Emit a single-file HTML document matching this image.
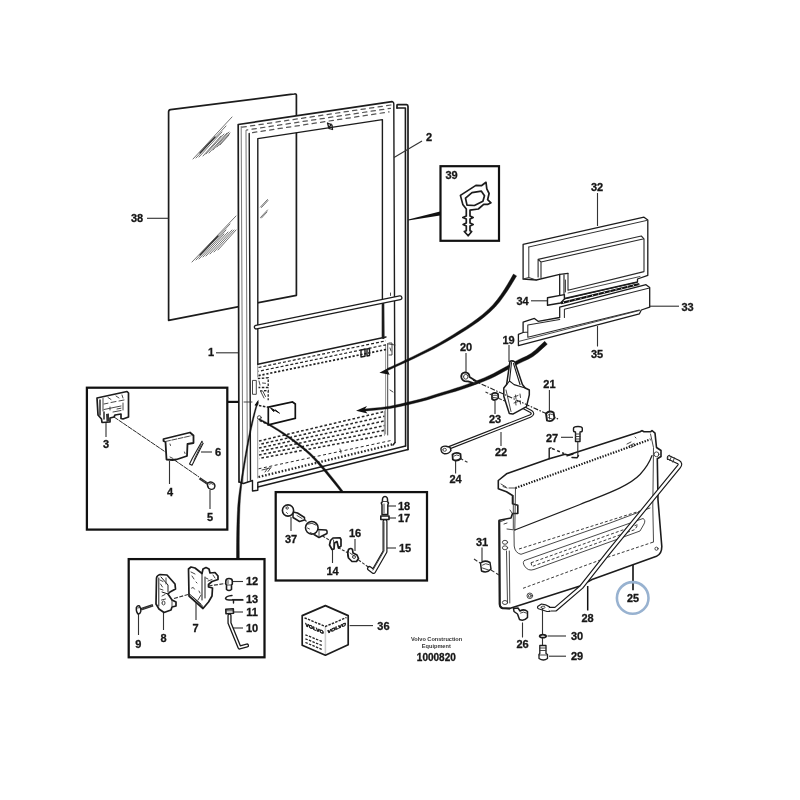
<!DOCTYPE html>
<html lang="en"><head><meta charset="utf-8"><title>Door parts diagram 1000820</title>
<style>
html,body{margin:0;padding:0;background:#fff;width:800px;height:800px;overflow:hidden}
svg{display:block;position:absolute;left:0;top:0;filter:blur(.45px)}
svg text{font-family:"Liberation Sans",sans-serif;font-weight:bold;font-size:11px;fill:#161616;text-anchor:middle;stroke:#161616;stroke-width:.3px;paint-order:stroke}
.l{fill:none;stroke:#1c1c1c;stroke-width:1.4;stroke-linecap:round;stroke-linejoin:round}
.t{fill:none;stroke:#333;stroke-width:.9;stroke-linecap:round;stroke-linejoin:round}
.g{fill:none;stroke:#666;stroke-width:.7;stroke-linecap:round}
.k{fill:none;stroke:#111;stroke-width:2.25;stroke-linejoin:miter}
.w{fill:#fff;stroke:#1c1c1c;stroke-width:1.4;stroke-linejoin:round;stroke-linecap:round}
.ld{fill:none;stroke:#333;stroke-width:1.12}
.d{fill:none;stroke:#222;stroke-width:1;stroke-dasharray:3 2}
.b{fill:none;stroke:#111;stroke-width:2.4;stroke-linecap:round}
</style></head><body>
<svg width="800" height="800" viewBox="0 0 800 800">
<rect width="800" height="800" fill="#fff"/>
<!-- glass pane 38 -->
<g id="glass">
<path class="w" style="stroke-width:1.700" d="M168.6,112 Q168.6,110 170.5,109.7 L294.5,93.9 Q296.4,93.6 296.4,95.5 L296.400,295.300 L168.600,320.300 Z"/>
<!-- reflections upper -->
<g class="t" style="stroke-width:.7">
<path d="M193,159 L232,117"/><path d="M196,158 L226,126"/><path d="M199,157 L222,132"/>
<path d="M203,156 L221,136"/><path d="M206,154 L224,134"/><path d="M209,153 L227,133"/>
<path d="M213,150 L229,132"/><path d="M217,147 L230,133"/><path d="M220,145 L229,135"/>
<path d="M200,153 L215,137" stroke-width="1.3"/>
<!-- reflections lower -->
<path d="M192,262 L236,216"/><path d="M196,260 L230,224"/><path d="M199,259 L226,230"/>
<path d="M203,257 L224,234"/><path d="M206,256 L228,232"/><path d="M210,254 L232,230"/>
<path d="M214,252 L234,230"/><path d="M218,250 L236,230"/>
<path d="M200,255 L218,236" stroke-width="1.3"/>
<!-- small -->
<path d="M260.500,207 L267.500,199.500"/><path d="M261.500,207.500 L268,200.500"/><path d="M260.500,217.500 L267.500,210"/><path d="M261.500,218 L267,212"/>
</g>
</g>
<!-- door frame 1 -->
<g id="frame">
<!-- white body of frame (covers glass) -->
<path fill="#fff" fill-rule="evenodd" stroke="none" d="M238.5,124.5 L392,101.6 L393.8,103 L395,443 L259,482 L238.5,482 Z M258,138.6 L382.4,119.6 L382.4,338 L258,362.5 Z"/>
<!-- outer left verticals -->
<path class="l" style="stroke-width:1.700" d="M239,482 L238.200,124.500 L392,101.600"/>
<path class="t" style="stroke:#666" d="M242.800,482 L241.200,126.500"/>
<path class="t" style="stroke:#666" d="M247.400,482 L246,130.500"/>
<path class="l" d="M250.500,480 L249.200,133.500"/>
<g fill="none" stroke="#555" stroke-width="1.250" stroke-linecap="round">
<path stroke-dasharray="4.300 4.300" d="M242,127.200 L391.500,104.900"/>
<path stroke-dasharray="4.300 4.300" stroke-dashoffset="3" d="M246.500,130 L390.500,108.300"/>
<path stroke-dasharray="4.300 4.300" stroke-dashoffset="6" d="M250,133 L389,111.900"/>
</g>
<!-- window opening -->
<path class="l" d="M257.800,364.200 L257.800,138.600 L382.400,119.600 L382.400,338"/>
<path class="g" d="M257.700,365 L257.700,377 M257.700,420 L257.700,478"/>
<path class="l" d="M257.800,364.200 L386,337"/>
<!-- right side -->
<path class="l" style="stroke-width:1.900" d="M383.300,301 L383.600,338"/>
<path class="l" d="M392,101.6 Q393.8,101.8 393.8,104 L395,442.5"/>
<path class="t" d="M387.700,343.800 L387.700,435 M387.700,343.800 L395,345"/>
<path class="g" d="M385.6,345 L385.6,434"/>
<!-- latch at top -->
<path class="l" style="stroke-width:1.3" d="M327.5,123 L329,128.5 L332.5,129.5 L332,125 Z M329,128.5 L331,124"/>
<!-- handle bar -->
<path fill="none" stroke="#1c1c1c" stroke-width="5" stroke-linecap="round" d="M256.200,327.100 L400,297.700"/>
<path fill="none" stroke="#fff" stroke-width="2.500" stroke-linecap="round" d="M256.200,327.100 L400,297.700"/>
<path class="t" d="M390.500,293 L390.500,295.500"/>
<!-- perforated band upper -->
<path class="d" style="stroke-width:1.200;stroke-dasharray:3 2" d="M258.500,367.500 L386,340.800"/>
<path class="d" style="stroke-width:1.200;stroke-dasharray:3 2;stroke-dashoffset:2.500" d="M258.500,371.300 L386,344.800"/>
<path class="d" style="stroke-width:1.700;stroke-dasharray:2.200 1.800" d="M258.500,375.600 L386.400,349.400"/>
<!-- small fittings -->
<path class="l" d="M361,350 L361,357 L365,356.3 L365,349.3 Z M367,349 L367,356 L369.5,355.5 L369.5,348.5 Z"/>
<path class="t" d="M389,343 L392,343 L392,355 L389,355 M390,348 L391,351"/>
<path class="t" d="M390,390 L393,392"/>
<!-- left hinge details -->
<path class="t" d="M252.500,380.800 L252.500,394.300 L256.300,394.300 L256.300,380.800 Z"/>
<path class="d" style="stroke-width:1.300;stroke-dasharray:2.500 1.500" d="M257.800,378.500 L268.200,377.800 L268.200,387.500 L258.500,387.500"/>
<path class="d" style="stroke-width:1.300;stroke-dasharray:2.500 1.500" d="M260,391 L268.200,390.500 L268.200,400.300"/>
<path class="t" d="M259,381 l1,4 M261,392 l3,6 M263,391.500 l2.500,5 M262.500,383 l3,.3"/>
<path class="t" d="M244,402 L252,402"/>
<circle class="t" cx="259.300" cy="417.600" r="1.900"/>
<path fill="#111" d="M254.500,405.300 L258.500,399.800 L258.300,404.800 Z"/>
<!-- recess box -->
<path class="k" style="stroke-width:1.700;fill:#fff" d="M268.300,407.200 L292.500,402 L295.300,404 L295.300,418.300 L268.300,424.800 Z"/>
<path d="M270.500,407.800 L279.500,413.200 L275.500,410 L273.500,411.500 Z" fill="#111" stroke="#111" stroke-width="1"/>
<path class="d" style="stroke-width:1.500;stroke-dasharray:2.500 1.500" d="M255,404.800 L268,407.200"/>
<path class="d" style="stroke-width:1.300;stroke-dasharray:2.500 1.800" d="M259.500,420.500 L267.500,424.300"/>
<!-- floor grating -->
<g fill="none" stroke="#2a2a2a" stroke-width="1.55">
<path stroke-dasharray="2.7 2.1" d="M259,441.0 L384.5,411.5"/>
<path stroke-dasharray="2.7 2.1" stroke-dashoffset="2.4" d="M259,444.5 L384.5,416.2"/>
<path stroke-dasharray="2.7 2.1" d="M259,448.0 L384.5,420.9"/>
<path stroke-dasharray="2.7 2.1" stroke-dashoffset="2.4" d="M259,451.5 L384.5,425.6"/>
<path stroke-dasharray="2.7 2.1" d="M259,455.0 L384.5,430.3"/>
<path stroke-dasharray="2.7 2.1" stroke-dashoffset="2.4" d="M259,458.5 L384.5,435.0"/>
<path stroke-dasharray="3 2.5" stroke-width="1" d="M258.500,468.800 L392,440.300"/>
<path stroke-dasharray="1.6 1.8" stroke-width="2.3" d="M258.500,477 L394,444"/>
</g>
<path class="g" d="M384.400,411 L384.400,434"/>
<path class="t" d="M262,470 L270,468 M265,472 l3,-4 M268,471.5 l3,-4"/>
<path class="t" d="M340,449 L341,453"/>
<!-- bottom lines -->
<path class="l" d="M395,442.500 L393,445"/>
<path class="l" d="M239.200,482 L243.500,483.500 L252.500,480.500 L252.500,491 L257.800,490.300 L257.800,482.500 L405.600,446"/>
<path class="l" d="M257.800,487 L408,449.500"/>
<!-- seal strip 2 -->
<path class="l" style="stroke-width:1.700" d="M397,108 L397,105.2 Q397,104.6 398,104.6 L406.5,104.6 Q408,104.8 408,106.5 L408,449.5"/>
<path class="l" style="stroke-width:1.600" d="M397,108 L405.400,108 L405.600,446"/>
</g>
<!-- callout boxes -->
<g id="boxes">
<rect class="k" style="stroke-width:2.2" x="440.5" y="166.2" width="58.5" height="74.6"/>
<rect class="k" x="86.900" y="387.700" width="140.400" height="141.900"/>
<rect class="k" x="128.7" y="559.1" width="135.8" height="98.2"/>
<rect class="k" x="275.7" y="492.1" width="151.3" height="88.4"/>
<!-- connectors -->
<path class="b" style="stroke-width:2.2;stroke-linecap:butt" d="M228,401.900 L238.600,401.900"/>
<path fill="#111" d="M408.3,219.6 L440,211.5 L440,215.5 L408.3,220.6 Z"/>
<!-- leader curve to box 7-13 -->
<path fill="#111" stroke="#111" stroke-width=".4" stroke-linejoin="round" d="M257.400,401.600 C251,420 245.400,452 240.300,485 C237.800,501 236.600,512 236.500,558.500 L239.300,558.500 C239.200,513 240,501 241.700,485.500 C246.600,452 252,422 258.200,402 Z"/>
<!-- leader curve to box 14-18 -->
<path fill="#111" stroke="#111" stroke-width=".4" stroke-linejoin="round" d="M259,418.500 C275,426.200 295,439.300 310.600,453.200 C322.800,464.700 334.500,480 343.300,491.500 L340.600,491.500 C332.300,481 321.300,466.800 309.400,454.800 C295,441.300 275,428.300 259,419.700 Z"/>
<!-- big arrows -->
<path fill="#111" stroke="#111" stroke-width=".4" stroke-linejoin="round" d="M513.4,274.1 L510.6,279.1 L507.7,284.0 L504.6,289.1 L501.0,294.4 L497.1,299.8 L492.8,304.9 L488.0,309.7 L482.7,314.4 L477.1,318.8 L471.4,322.9 L465.5,326.9 L459.3,330.8 L452.8,334.9 L446.1,339.0 L439.4,342.9 L432.8,346.5 L426.1,349.9 L419.5,353.3 L412.6,356.7 L405.6,360.0 L399.6,362.9 L395.0,365.0 L391.3,366.7 L387.6,368.4 L388.4,370.2 L392.1,368.5 L395.8,366.8 L400.4,364.7 L406.5,361.9 L413.5,358.7 L420.5,355.3 L427.2,352.0 L433.9,348.7 L440.6,345.1 L447.4,341.2 L454.2,337.2 L460.7,333.2 L467.0,329.3 L473.0,325.3 L478.9,321.2 L484.6,316.7 L490.1,312.0 L495.2,307.1 L499.7,301.8 L503.7,296.3 L507.4,290.9 L510.7,285.8 L513.6,280.9 L516.6,275.9 Z"/>
<path fill="#111" d="M379.400,372.700 L389.700,367.300 L387.600,370.600 L389.700,374.700 Z"/>
<path fill="#111" stroke="#111" stroke-width=".4" stroke-linejoin="round" d="M544.7,341.3 L540.1,345.6 L535.5,349.9 L531.0,353.5 L526.6,356.1 L522.1,358.1 L517.2,360.4 L511.8,363.4 L506.3,366.5 L501.2,369.3 L497.1,371.5 L493.5,373.5 L489.3,375.5 L484.0,377.9 L478.0,380.3 L472.0,382.6 L466.2,384.7 L460.4,386.7 L454.6,388.6 L448.8,390.5 L442.9,392.2 L437.1,394.0 L431.7,395.7 L426.4,397.4 L419.7,399.3 L410.5,401.6 L400.0,404.1 L389.8,406.2 L380.7,407.5 L371.8,408.3 L362.9,409.2 L363.1,411.2 L372.0,410.4 L380.9,409.6 L390.2,408.4 L400.5,406.4 L411.1,404.0 L420.3,401.7 L427.1,399.9 L432.5,398.2 L437.9,396.5 L443.7,394.8 L449.6,393.1 L455.4,391.4 L461.3,389.5 L467.2,387.5 L473.0,385.4 L479.1,383.2 L485.2,380.8 L490.7,378.5 L495.0,376.4 L498.7,374.4 L502.8,372.2 L507.9,369.4 L513.5,366.4 L518.8,363.6 L523.6,361.3 L528.2,359.2 L533.0,356.5 L537.9,352.7 L542.6,348.4 L547.3,344.2 Z"/>
<path fill="#111" d="M356,410.800 L367,406 L364.500,409.800 L367.500,413.400 Z"/>
</g>
<!-- labels -->
<g id="labels">
<text x="211" y="356.300">1</text><path class="ld" d="M216,352.800 L238,352.800"/>
<text x="429" y="140.8">2</text><path class="ld" d="M422,141 L394,157.6"/>
<text x="137" y="222.2">38</text><path class="ld" d="M147,218.3 L168.5,218.3"/>
<text x="451.5" y="178.8">39</text>
<text x="597" y="190.8">32</text><path class="ld" d="M597.5,193 L597.5,226"/>
<text x="687.5" y="310.8">33</text><path class="ld" d="M650,306.2 L679,306.2"/>
<text x="522.5" y="304.8">34</text><path class="ld" d="M531,300.8 L547,300.8"/>
<text x="597" y="358.3">35</text><path class="ld" d="M597.5,326 L597.5,346.5"/>
<text x="508.5" y="343.6">19</text><path class="ld" d="M509,345 L509,362"/>
<text x="466" y="351.3">20</text><path class="ld" d="M466,353 L466,373"/>
<text x="549.4" y="387.8">21</text><path class="ld" d="M549.4,390 L549.4,411"/>
<text x="495" y="422.8">23</text><path class="ld" d="M495,401 L495,414"/>
<text x="501" y="455.8">22</text><path class="ld" d="M501,432 L501,446"/>
<text x="455.6" y="483.4">24</text><path class="ld" d="M455.6,460 L455.6,473.5"/>
<text x="552" y="441.8">27</text><path class="ld" d="M561,437.3 L573,437.3"/>
<text x="106" y="447.8">3</text><path class="ld" d="M106,422 L106,437"/>
<text x="170" y="495.8">4</text><path class="ld" d="M169.5,461 L169.5,484"/>
<text x="210" y="521.4">5</text><path class="ld" d="M210,490 L210,509"/>
<text x="218" y="455.8">6</text><path class="ld" d="M201,452 L212,452"/>
<text x="252" y="585.4">12</text><path class="ld" d="M232,581.5 L243,581.5"/>
<text x="252" y="603.2">13</text><path class="ld" d="M232,599.5 L243,599.5"/>
<text x="252" y="615.8">11</text><path class="ld" d="M233,612 L243,612"/>
<text x="252" y="631.8">10</text><path class="ld" d="M233,628 L243,628"/>
<text x="195.6" y="631.8">7</text><path class="ld" d="M196,603 L196,620"/>
<text x="163.6" y="641.8">8</text><path class="ld" d="M163.5,612 L163.5,630"/>
<text x="138.4" y="647.8">9</text><path class="ld" d="M138.5,613 L138.5,635"/>
<text x="404" y="509.8">18</text><path class="ld" d="M388,506 L396,506"/>
<text x="404" y="521.8">17</text><path class="ld" d="M387,518 L396,518"/>
<text x="405" y="551.8">15</text><path class="ld" d="M386,548 L396,548"/>
<text x="355" y="536.8">16</text><path class="ld" d="M355,539 L355,551"/>
<text x="332.6" y="574.8">14</text><path class="ld" d="M332.5,548 L332.5,563"/>
<text x="291" y="542.8">37</text><path class="ld" d="M291,517 L291,531"/>
<text x="383.4" y="629.8">36</text><path class="ld" d="M349.6,625.6 L373,625.6"/>
<text x="482" y="545.8">31</text><path class="ld" d="M482,547.5 L482,561"/>
<text transform="translate(633,602) scale(1.060,1)" style="font-size:10.200px">25</text><path class="ld" style="stroke-width:1.600;stroke:#111" d="M633,564.500 L633,590.300"/>
<text x="587.5" y="622.3">28</text><path class="ld" style="stroke-width:1.500;stroke:#111" d="M587.700,586 L587.700,610.500"/>
<text x="577" y="639.8">30</text><path class="ld" d="M547.5,636 L566,636"/>
<text x="577" y="659.8">29</text><path class="ld" d="M549,656.2 L566,656.2"/>
<text x="522.5" y="647.5">26</text><path class="ld" d="M522.5,622.5 L522.5,637.5"/>
<circle cx="632.700" cy="597.900" r="15.800" fill="none" stroke="#98b2d0" stroke-width="2.600"/>
<text x="436.600" y="640.900" style="font-size:5.600px;fill:#333;stroke:none">Volvo Construction</text>
<text x="436.300" y="647.700" style="font-size:5.600px;fill:#333;stroke:none">Equipment</text>
<text x="436.300" y="660.500" style="font-size:10px">1000820</text>
</g>
<!-- panels 32-35 -->
<g id="panels">
<!-- 32 outer -->
<path class="w" style="stroke-width:1.3" d="M523.1,244.4 L644,217.2 L647.8,220 L647.8,275.3 L637.5,279 L637.5,282 L564.5,298.5 L559.7,296 L559.7,274.4 L536.3,280 L523.1,279 Z"/>
<path class="l" style="stroke-width:1;stroke:#333" d="M528.8,247 L646.5,220.5 M528.8,247 L528.8,277.5 L523.1,279 M528.8,277.5 L536.3,280"/>
<!-- 32 inner raised -->
<path class="l" style="stroke-width:1.1;stroke:#2a2a2a" d="M538.1,277 L538.1,259.4 L641.3,236 L644,238.8 L644,271.6 L568,290.3 L568,273.4 M541,277.5 L541,262 L643,239 M538.1,259.4 L541,262"/>
<path class="l" style="stroke-width:1.1" d="M559.7,274.4 L568,273.4 M564,275 L564,296"/>
<path class="t" d="M565.5,280 L565.5,292"/>
<path class="t" d="M568,293 L640,276.5"/>
<!-- 34 strip -->
<path class="w" d="M547.5,297.8 L564.4,294.6 L564.4,299 L560.6,303 L547.5,305.3 Z"/>
<path fill="none" stroke="#111" stroke-width="2.3" d="M561,303.2 L639.4,284"/>
<path fill="none" stroke="#fff" stroke-width=".9" stroke-dasharray="1 5" d="M563,302.7 L639.4,284"/>
<path class="l" style="stroke-width:1" d="M564.4,299 L637,282.3"/>
<!-- 33 lower panel -->
<path class="w" style="stroke-width:1.3" d="M559.7,307.2 L646,284.7 L649.7,287.5 L649.7,307.2 L641.3,310 L639.4,313.8 L518.4,345.6 L518.4,334.4 L523.1,332.5 L523.1,322.2 L534.4,318.4 L538.1,321.3 L559.7,317.5 Z"/>
<path class="l" style="stroke-width:1.05;stroke:#2a2a2a" d="M564.4,309.3 L648.5,288.3 M564.4,309.3 L564.4,317.5 M527.8,337.2 L527.8,325 L559.7,319.5 M527.8,337.2 L639.4,310 M523.1,332.5 L527.8,332"/>
<path class="t" d="M518.4,341.5 L639.4,310.5"/>
</g>
<!-- lower panel 25 and stay 28 -->
<g id="panel25">
<!-- body -->
<path class="w" style="stroke-width:1.600" d="M506.5,473.8 L549.2,458.8 L565,454.3 L568,455 L640,431.8 L642,430.6 L644,431.8 L650.5,431.8 L652,430.5 L655,433.2 L656.5,447.5 L661,450.5 L661,456.5 L657.3,458.8 L658,500 L661.8,546.5 Q661.8,554 656.5,556.2 L592,579.5 L580,586 L509.5,608.5 L502,608 Q499.6,607 499.7,604 L499.2,520.3 L511,518 L512.5,513.5 L517.8,513.5 L517.8,505.3 L512.5,503.8 L512.5,495.5 L506.5,491.8 L498.3,488.8 L498.3,480.5 Z"/>
<path class="l" style="stroke-width:2" d="M499.300,521 L499.700,604 Q499.700,607.300 502.500,608.200 L509.500,608.500"/>
<!-- tick + dashed near 27 -->
<path class="l" d="M549.2,458.8 L549.2,448.3 L551,447.8"/>
<path class="d" style="stroke-width:1.4;stroke-dasharray:3 2.5" d="M552,448.5 L564,453.5"/>
<path class="l" style="stroke-width:1.4" d="M567,455.8 L573,454 M572,457.5 L577,457.8 L578.5,455.5"/>
<!-- fold line (rope) -->
<path fill="none" stroke="#1a1a1a" stroke-width="2.200" stroke-dasharray="1.400 1.400" d="M515.500,488 L650.500,439.300"/>
<path class="t" d="M501,484 L506,487 M503,486.5 l4,1.5 M509,488 L515.5,488"/>
<path class="t" d="M627,444 l4,-2 M629,446 l5,-2.5 M631,447.5 l5,-2.5 M635,437 l1,1"/>
<!-- vertical fold at left -->
<path class="t" d="M515.5,488 L514.8,530 M513.3,495.5 L513.3,529"/>
<path class="t" d="M499.5,522 L505,520 M504,524 l3,-1 M507,529 L514.8,530 M510,510 l2,3"/>
<!-- big curve -->
<path class="l" style="stroke-width:1.200" d="M514.800,530 C540,520 560,512.500 580,504.500 C603,495 628,487 640,474.500 C646,468 650,461 652,455.500"/>
<!-- inner right -->
<path class="t" d="M650.5,434 L653.5,447.5 L652.8,506 L653.5,542"/>
<circle class="t" cx="656.5" cy="454.3" r="2.4"/>
<circle class="t" cx="656.5" cy="548.7" r="1.6"/>
<!-- inner panel outline (thin) with round corner -->
<path class="t" d="M514,531 L514.2,546 Q515,553 521,554.3 L610,523 L650,508"/>
<!-- dashed inner bottom -->
<path class="d" style="stroke-width:.9;stroke-dasharray:3 2" d="M523,588.3 L608.5,557 L653.5,542"/>
<!-- slot recess -->
<path class="t" d="M524.5,560.5 L643,518.5 Q646,520 644,524 L640,531 L534,569.5 Q528,571.5 524.5,566 Q522,562 524.5,560.5 Z"/>
<path class="d" style="stroke-width:.9;stroke-dasharray:3 2" d="M531,562.8 L638,524.5 L635,529.5 L532,566.5 Z"/>
<path class="d" style="stroke-width:.9;stroke-dasharray:3 2" d="M519,549 L640,511"/>
<!-- left hinge rod + holes -->
<path class="t" d="M506.5,551 L507.5,603 M509.3,551 L509.8,603"/>
<ellipse class="t" cx="505" cy="542.3" rx="2.6" ry="2"/><ellipse class="t" cx="505" cy="547.8" rx="2.6" ry="2"/>
<ellipse class="t" cx="505" cy="602.5" rx="2.6" ry="2"/>
<circle class="t" cx="529.8" cy="595.8" r="2.8"/><circle class="t" cx="529.8" cy="595.8" r="1.4"/>
<!-- stay rod 28 -->
<path fill="none" stroke="#1a1a1a" stroke-width="4.700" stroke-linejoin="round" stroke-linecap="butt" d="M668.500,457.300 L678,461.800 Q681.300,463.600 679,466.500 L608.800,552.300 L581.600,586.800 L555.500,609.200 L549,609.200"/>
<path fill="none" stroke="#fff" stroke-width="2.400" stroke-linejoin="round" stroke-linecap="butt" d="M668.500,457.300 L678,461.800 Q681.300,463.600 679,466.500 L608.800,552.300 L581.600,586.800 L555.500,609.200 L549,609.200"/>
<path class="l" style="stroke-width:1.100" d="M669.500,455.200 Q666.500,456 667.500,459.500"/>
<path class="t" d="M671.500,456.300 l-1.700,4.300 M674.500,457.800 l-1.700,4.300"/>
<path class="w" style="stroke-width:1.200" d="M549.500,606.900 L545.500,604.800 L541.500,604 L538,606.200 Q536.800,607.600 538.500,608.800 L547,611.500 L549.500,611.500 Z"/>
<path fill="#fff" d="M549,608 h2 v2.400 h-2 z"/>
<path class="t" d="M541,607.300 a2,1.200 0 1,0 4,0 a2,1.200 0 1,0 -4,0"/>
<!-- redraw bottom edge across rod? (rod is in front) -->
</g>
<!-- small hardware 19-24, 26, 27, 29-31 -->
<g id="small">
<!-- centre line 20-21 -->
<!-- 20 bolt -->
<path class="w" style="stroke-width:1.8" d="M465,372.3 Q469.5,372.5 469.5,377 L476,381 L475,383.5 L468,381.3 Q463,382 461.5,378 Q460.5,373 465,372.3 Z"/>
<path class="t" d="M463.5,376.8 a2.2,2.4 0 1,0 4.4,0 a2.2,2.4 0 1,0 -4.4,0"/>
<!-- 23 -->
<path class="w" style="stroke-width:1.7" d="M492,394 Q495,391.8 498,394 L498.3,398 Q495,401.5 492,399 Z"/>
<path class="t" d="M493.5,395.5 q1.5,-1 3,0 M493,397.5 l4,.5"/>
<!-- 22 rod -->
<path fill="none" stroke="#1a1a1a" stroke-width="3.5" stroke-linecap="round" stroke-linejoin="round" d="M446,449 L530,416.2 Q534.5,414 531,411.5 L523.5,407.5"/>
<path fill="none" stroke="#fff" stroke-width="1.3" stroke-linecap="round" stroke-linejoin="round" d="M446,449 L530,416.2 Q534.5,414 531,411.5 L523.5,407.5"/>
<path class="w" d="M441,448.3 Q442,445.8 446,446.2 L450,447.2 L451,450.5 Q449,454 444.5,453.8 Q440.5,452.5 441,448.3 Z"/>
<path class="t" d="M442.8,449.8 a1.8,1.5 0 1,0 3.6,0 a1.8,1.5 0 1,0 -3.6,0"/>
<!-- 19 bracket -->
<path class="w" style="stroke-width:1.500" d="M510,361.200 Q512.500,360.300 514.800,361.900 L522.400,384.600 L525.200,388 L529.300,390 L529.300,394.900 L526.500,406.600 L512.800,414.100 L509.300,413.500 L503.800,396.300 L503.800,388 L506.600,384.600 Z"/>
<path class="l" style="stroke-width:1.100" d="M511.500,362.500 L509.500,381 L506.600,384.600 M509.500,381 L514.100,384.600 L525.200,388 M513.500,363.500 L520,384.500"/>
<path class="t" d="M506,390 L511,411.500 M514,397 l4,-1.500 M514,403 l4,-1.500 M515.500,395 l.5,4 M515.500,401 l.5,4 M520,394 l.5,3.500 M520,400.500 l.5,3.500"/>
<path class="ld" style="stroke-dasharray:5 1.500 1.500 1.500;stroke:#222" d="M473,380.200 L558.500,419.200"/>
<path class="ld" style="stroke-dasharray:3 1.500" d="M485.500,392 L491.500,394.800 M499,398.500 L505,401"/>
<!-- 21 nut -->
<path class="w" style="stroke-width:1.9" d="M546,413.5 Q549.5,410 553.5,412.5 L554.5,418 Q551.5,422.5 547,420.5 Z"/>
<path class="t" d="M548,415 q2,-2 4.5,-.5 M548,417.5 l4,1.5 M549.5,414 l0,5"/>
<!-- 24 nut -->
<path class="w" style="stroke-width:1.8" d="M452.5,454.5 Q456,451.5 460.5,454 L460.8,458.5 Q457,462 452.8,459.5 Z"/>
<path class="t" d="M454,456 q2.5,-2 5,-.5"/>
<path class="ld" style="stroke-dasharray:3 2" d="M460.5,458.5 L467.5,462.3"/>
<!-- 27 bolt -->
<path class="w" style="stroke-width:1.4" d="M573.5,428.5 Q573.5,426.5 578,426.5 Q582.3,426.5 582.3,428.5 L582.3,430.5 Q582.3,432 580,432 L580,441.5 L575.5,441.5 L575.5,432 Q573.5,432 573.5,430.5 Z"/>
<path class="t" d="M575.5,434 h4.5 M575.5,436.5 h4.5 M575.5,439 h4.5"/>
<path class="ld" d="M577.8,441.5 L577.8,456.5"/>
<!-- 31 nut -->
<path class="ld" style="stroke-dasharray:4 2" d="M474,559 L480,563 M491,570 L499,575"/>
<path class="w" style="stroke-width:1.5" d="M480.5,563 Q484.5,559.5 490,562.5 L491,569 Q487,573.5 481.5,571 Z"/>
<path class="t" d="M482.5,565 q3,-2.5 6.5,-.5 M482.5,568 l6,2"/>
<!-- 26 nut/bolt -->
<path class="w" style="stroke-width:1.5" d="M513.5,608.5 L518,608 L520,611 Q524,608.5 527.5,611.5 L527.5,617.5 Q524,621.5 519.5,619.5 L517.5,614 L514,611.5 Z"/>
<path class="t" d="M520.5,613 q3,-2 6,0"/>
<!-- centre line to 30/29 -->
<path class="ld" d="M542.5,608 L542.5,645"/>
<path class="w" style="stroke-width:1.700" d="M539.600,636.200 a3.300,1.500 0 1,0 6.600,0 a3.300,1.500 0 1,0 -6.600,0"/>
<path class="w" style="stroke-width:1.3" d="M539.8,645.5 L546,645.5 L546,653.5 L547.5,654.5 L547.5,658.5 Q543.5,661.5 539,658.5 L539,654.5 L539.8,653.5 Z"/>
<path class="t" d="M539.8,648 h6 M539.8,650.5 h6 M539,655 h8.5"/>
</g>
<!-- box 3-6 contents -->
<g id="box3">
<!-- line 3->5 -->
<path class="ld" style="stroke-width:1;stroke:#2a2a2a;stroke-dasharray:5 .6" d="M114,417 L165.500,452 M170,457 L199,477"/>
<!-- 3 block -->
<path class="w" style="stroke-width:1.7" d="M97,398 L127,391.5 L128.5,393 L128.5,417 L123,419 L121,418.5 L121,414 L115,415 L114,417 L110,418 L110,422 L102,422.5 L101.5,419 L98,415 Z"/>
<path class="l" d="M100,400 L100,415 M104,412 L104,419"/>
<path fill="#333" d="M106,414 L109,413.5 L109,421.5 L106.5,422 Z"/>
<path class="t" d="M103,398.5 L103,411 M104,409.5 L121,406 M104,404 l4,-.8 M111,402.5 l5,-1 M119,401 l5,-1 M108,397.5 l3,2 M116,396 l3,2 M122,395 l1,3 M123,403 l0,7 M110,407 l0,3 M117,409 l4,-.8 M113,412 L121,410.5"/>
<!-- 4 bracket -->
<path class="w" style="stroke-width:1.8" d="M163.5,439 L190,432.5 L193.5,435.5 L193.5,443 L187.5,444 L187,456 L176.5,459.5 L172.5,460 L166.5,459.5 L165.5,442 L163.5,441 Z"/>
<path class="t" style="stroke-dasharray:5 1.5" d="M165.5,441.5 L191,435.8"/>
<path class="t" d="M170,444 l.5,1.5 M184.500,452 l.5,1.5 M170,457 l3,1.500"/>
<!-- 6 spring pin -->
<path class="l" style="stroke-width:1.1" d="M202,441.300 L192.500,458 L189.500,464 L192,465.300 L203,443.500"/>
<path class="t" d="M201.300,444.500 L194,460 M202,441.300 l1,2"/>
<!-- 5 screw -->
<path fill="none" stroke="#2a2a2a" stroke-width="2.500" d="M199.500,478.300 L208,484"/>
<path fill="none" stroke="#bbb" stroke-width=".600" stroke-dasharray=".600 1.400" d="M199.500,478.300 L208,484"/>
<path class="w" style="stroke-width:1.300" d="M208,483 Q211,480.800 214,483.500 Q216,486 214,488.500 Q211.500,490.300 208.800,488.300 Q206.500,485.500 208,483 Z"/>
<path class="t" d="M209.300,484 q2,-1.500 4,.5"/>
</g>
<!-- box 7-13 contents -->
<g id="box7">
<!-- 9 bolt -->
<path fill="none" stroke="#2a2a2a" stroke-width="2.700" d="M141,609.300 L153,605.300"/>
<path fill="none" stroke="#bbb" stroke-width=".600" stroke-dasharray=".600 1.400" d="M142,609 L153,605.300"/>
<path class="w" style="stroke-width:1.400" d="M136.300,607.500 Q137.500,605.300 139.500,606 Q141,608 140.800,611.500 Q140,614.300 138,614 Q136,612 136.300,607.500 Z"/>
<path class="t" d="M137.500,608 l2.500,-.5"/>
<!-- 8 striker -->
<path class="w" style="stroke-width:1.700" d="M156.500,578 Q156.800,575.500 160,574.500 L167,575 L175,584 L175.500,589 L170,592 L168,594 L172,600 L176,602 L176,606 L172,607 L171,610 L164,612.500 L159,609 L156,604 Z"/>
<path class="l" style="stroke-width:1" d="M158.800,578 L158.800,606 M161,577 L168,585 L168,592 M162,592 L168,594"/>
<path class="t" d="M160,580 l3,1.500 M160.500,584 l2,3 M160,589 l3,1 M162,596 l3,-1.500 M161.500,600 l4,-1 M162,603 a1.500,2 0 1,0 3,0 a1.500,2 0 1,0 -3,0 M166,578 l0,6 M172,600 l0,6"/>
<!-- dashed 8-7 -->
<path class="ld" style="stroke-dasharray:4 1.500" d="M174,598.500 L188,594.500"/>
<!-- 7 latch -->
<path class="w" style="stroke-width:1.700" d="M188.500,569 L191,567 L195,568 L202,573.500 L203,569 L206,567.500 L209,569 L210,573 L215,572.500 L218,576 L218,579.500 L212,581.500 L208.500,584.500 L208.500,587 L212.500,588 L212,596 L208.500,602 L203,608.500 L189,596 Z"/>
<path class="l" style="stroke-width:1" d="M202,573.500 L202,600 M205,577 L205,598 M189.500,594 L203,606.500"/>
<path class="t" d="M191,572 l4,2 M192,576 l2,3 M196,582 l1,1 M191.500,588 q2,-2 3,1 M199,591 l1,2 M198,600 l3,-5 M206,578 l2,1 M208,581 l4,-1.500 M193,597 l8,7 M213,575 l2,3"/>
<!-- dashed 7-12 -->
<path class="ld" style="stroke-dasharray:4 1.500" d="M208.500,586 L225,583.500"/>
<!-- 12 bushing -->
<path class="w" style="stroke-width:1.600" d="M225.800,581 Q226,578.500 229,578.500 Q232.300,578.500 232.300,581 L232.300,584 L231.500,585 L231.500,589.500 Q229,591.500 226.500,589.500 L226.500,585 L225.800,584 Z"/>
<path class="t" d="M226.500,585 h5 M228,580.500 l0,3"/>
<!-- 13 clip -->
<path class="l" d="M232,595.500 Q226,596 225.500,598.500 Q226,600 229,600 L243,600 M233.500,600 L233.500,603"/>
<!-- 11 nut -->
<path class="w" style="stroke-width:1.600" d="M225.800,609.300 L233.300,608.800 L233.500,613.300 L226,613.800 Z"/>
<path class="t" d="M226,610.800 h7.300"/>
<!-- 10 rod -->
<path fill="none" stroke="#1a1a1a" stroke-width="4.200" stroke-linecap="round" stroke-linejoin="round" d="M229.500,615.500 L229.500,623 L239.500,647.500 L247,645.500"/>
<path fill="none" stroke="#fff" stroke-width="1.600" stroke-linecap="round" stroke-linejoin="round" d="M229.500,615.500 L229.500,623 L239.500,647.500 L247,645.500"/>
</g>
<!-- box 14-18, 37 contents -->
<g id="box14">
<!-- 37 key -->
<path class="w" style="stroke-width:1.500" d="M293,512 L297.500,513 L304.500,517.500 L304.500,520 L299.500,521.500 L293,517.500 Z"/>
<circle class="w" style="stroke-width:1.600" cx="288" cy="510.500" r="5.600"/>
<path class="t" d="M286,508 a1.200,1.200 0 1,0 2.400,0 a1.200,1.200 0 1,0 -2.400,0 M286.500,512.500 l1,1 M297,515.500 l5,3"/>
<!-- cylinder -->
<path class="w" style="stroke-width:1.500" d="M317,529.500 L326,530 Q327.500,530.500 327,533.500 L319,537.500 L314,534.500 Z"/>
<circle class="w" style="stroke-width:1.600" cx="311.800" cy="527.800" r="6.300"/>
<path class="t" d="M308,524 q4,-2 8,1 M307.500,528 l2,1 M310,532.500 l5,2 M319,531 l0,5"/>
<path class="ld" style="stroke-dasharray:3 1.500" d="M304.500,519.500 L306.500,521.500 M322.500,536 L330,540.500 M338,547.500 L348,553 M358.500,560 L369,567.500"/>
<!-- 14 clip -->
<path class="w" style="stroke-width:1.700" d="M330.500,540.500 L333,538 L340,537.800 L341,539.500 L341,546 L338.500,548 L337,541.500 L334.500,543 L334,549 L332,549.500 L329.500,545 Z"/>
<path class="t" d="M333.500,540 l.5,7"/>
<!-- 16 -->
<path class="w" style="stroke-width:1.700" d="M348.500,549.500 Q351,547.500 352.500,549.500 L353,553 L357,555 L358.500,558.500 L356.500,561.500 L352,561.500 L348.500,558 Q347,553 348.500,549.500 Z"/>
<path class="t" d="M350,553 l4,3 M352.500,557 a1.500,1.500 0 1,0 3,0 a1.500,1.500 0 1,0 -3,0"/>
<!-- 15 rod -->
<path fill="none" stroke="#1a1a1a" stroke-width="5" stroke-linejoin="round" stroke-linecap="round" d="M385,521.500 L385,551.500 L373.500,571.500 L369.500,568.500"/>
<path fill="none" stroke="#fff" stroke-width="2.600" stroke-linejoin="round" stroke-linecap="round" d="M385,521.500 L385,551.500 L373.500,571.500 L369.500,568.500"/>
<path class="t" d="M384,522 L384,551 L373,570"/>
<!-- 17 washer -->
<path class="w" style="stroke-width:1.600" d="M380.800,516 L389,516 L389,519.500 L380.800,519.500 Z"/>
<!-- 18 knob -->
<path class="w" style="stroke-width:1.500" d="M382,514.500 L382,505 L381.300,503 L382.500,501.500 Q382,496.500 385,496.500 Q388,496.500 387.500,501.500 L388.500,503 L387.800,505 L387.800,514.500 Z"/>
<path class="t" d="M382.500,501.500 h5 M384,504 l0,9"/>
</g>
<!-- cube 36 -->
<g id="cube">
<path class="w" style="stroke-width:1.700" d="M325.400,605.600 L348.200,615.600 L348.200,644.800 L325.400,655.200 L302.200,645.200 L302.200,615.600 Z"/>
<path fill="none" stroke="#ccc" stroke-width="1.600" d="M325.400,627 L325.400,654"/>
<path class="d" style="stroke-width:1.400;stroke-dasharray:2.500 1.200" d="M304.500,617.800 L325.400,626.500 L346.500,617.500"/>
<text transform="translate(305.200,622.800) skewY(23.500)" x="0" y="3.200" style="font-size:4.400px;text-anchor:start;fill:#111;stroke:#111;stroke-width:.45px" textLength="18.500" lengthAdjust="spacingAndGlyphs">VOLVO</text>
<text transform="translate(327.500,630.300) skewY(-23.500)" x="0" y="3.200" style="font-size:4.400px;text-anchor:start;fill:#111;stroke:#111;stroke-width:.45px" textLength="18.500" lengthAdjust="spacingAndGlyphs">VOLVO</text>
<path class="d" style="stroke-width:1.300;stroke-dasharray:2.500 1.300" d="M305.400,634.800 L322.200,641.600 M305.400,638.800 L322.200,645.600 M305.400,642.500 L322.200,649.600"/>
</g>
<!-- seal profile 39 -->
<g id="seal">
<path class="w" style="stroke-width:1.700;fill-rule:evenodd" d="M460.400,195.400 L475.900,185.400 L481.400,185.700 L486,182.300 L486.800,188.900 L489.100,193.500 L487.600,199.700 L491,202.800 L487.600,204.400 L483.700,204.400 L478.300,209 L470,210.200 L470,216 L473.200,217.500 L470,219.100 L470,223 L473.200,224.500 L470,226 L470,230.700 L471.700,231.500 L468.200,235.800 L464.300,231.500 L466.300,230.700 L466.300,226 L463.100,224.500 L466.300,223 L466.300,219 L462.800,217.500 L466.300,216 L466.300,209 L462.800,204.400 Z M465.500,198.200 L472,192.700 L481.400,191.200 L484.500,195.800 L482.900,201.300 L474.400,205.500 L467,205.100 Z"/>
</g>
</svg>
</body></html>
